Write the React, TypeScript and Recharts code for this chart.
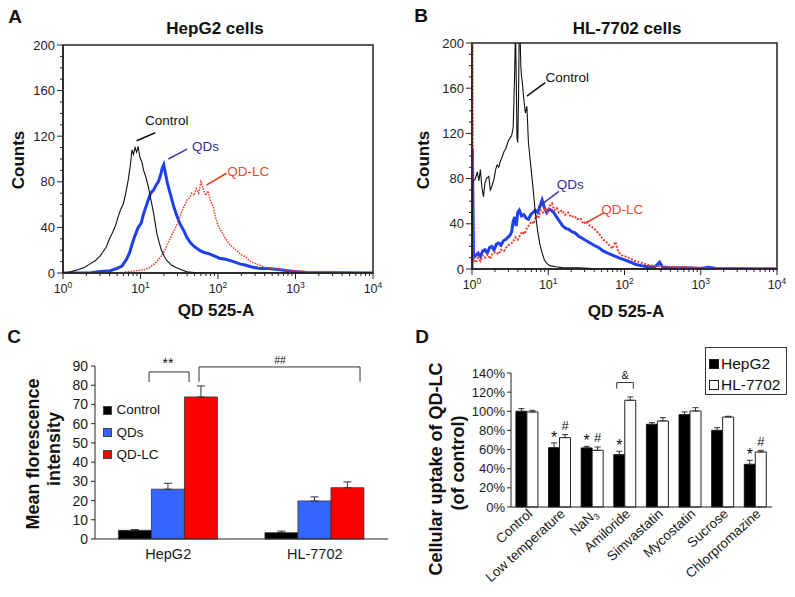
import React from "react";
import {
  LineChart,
  Line,
  XAxis,
  YAxis,
  ReferenceArea,
  ReferenceLine,
  ReferenceDot,
  BarChart,
  Bar,
  ErrorBar,
  LabelList,
} from "recharts";

type Pt = [number, number];

// ---------- Panel A: HepG2 cells (x = log10 of QD 525-A intensity, y = counts)
const hepg2Control: Pt[] = [
  [0, 0], [0.1, 1], [0.2, 3], [0.28, 5], [0.35, 8], [0.42, 11], [0.48, 15], [0.53, 20],
  [0.56, 23], [0.6, 30], [0.65, 37], [0.68, 42], [0.71, 49], [0.74, 55], [0.78, 61],
  [0.81, 70], [0.84, 81], [0.87, 95], [0.89, 108], [0.91, 104], [0.93, 110], [0.95, 106],
  [0.97, 111], [0.99, 102], [1.02, 97], [1.04, 90], [1.07, 84], [1.1, 76], [1.13, 66],
  [1.17, 52], [1.21, 35], [1.24, 27], [1.27, 20], [1.31, 14], [1.34, 11], [1.4, 7],
  [1.45, 5], [1.52, 3], [1.6, 1], [1.75, 0], [4, 0],
];
const hepg2QDs: Pt[] = [
  [0, 0], [0.35, 0], [0.45, 1], [0.61, 2], [0.7, 4], [0.76, 6], [0.82, 12], [0.86, 18],
  [0.89, 25], [0.93, 33], [0.97, 40], [1.01, 44], [1.04, 52], [1.07, 58], [1.1, 64],
  [1.13, 70], [1.17, 73], [1.2, 77], [1.23, 80], [1.26, 86], [1.28, 92], [1.3, 95],
  [1.32, 88], [1.35, 78], [1.39, 68], [1.43, 58], [1.47, 50], [1.51, 43], [1.56, 37],
  [1.6, 31], [1.65, 26], [1.7, 23], [1.76, 20], [1.82, 18], [1.88, 17], [1.95, 15],
  [2.02, 13], [2.1, 12], [2.2, 10], [2.28, 8], [2.35, 7], [2.45, 5], [2.55, 4], [2.65, 4],
  [2.78, 3], [2.9, 2], [3.0, 1], [3.15, 0.5], [4, 0],
];
const hepg2QDLC: Pt[] = [
  [0, 0], [0.7, 0], [0.82, 1], [0.95, 2], [1.05, 3], [1.12, 5], [1.18, 8], [1.22, 11],
  [1.27, 15], [1.32, 21], [1.36, 27], [1.4, 33], [1.44, 38], [1.48, 44], [1.52, 52],
  [1.56, 58], [1.6, 64], [1.63, 66], [1.66, 70], [1.69, 68], [1.72, 74], [1.75, 70],
  [1.78, 80], [1.81, 74], [1.84, 68], [1.87, 72], [1.9, 64], [1.94, 58], [1.97, 48],
  [2.01, 40], [2.05, 36], [2.1, 30], [2.15, 25], [2.2, 22], [2.25, 19], [2.3, 16],
  [2.36, 14], [2.42, 10], [2.5, 8], [2.6, 5], [2.7, 4], [2.85, 3], [3.0, 2], [3.15, 1],
  [3.3, 0.5], [4, 0],
];

// ---------- Panel B: HL-7702 cells
const hl7702Control: Pt[] = [
  [0, 0], [0.01, 78], [0.04, 79], [0.07, 86], [0.09, 78], [0.11, 88], [0.13, 72], [0.15, 64],
  [0.17, 76], [0.19, 80], [0.22, 82], [0.24, 70], [0.26, 73], [0.29, 80], [0.31, 88],
  [0.33, 92], [0.35, 90], [0.37, 95], [0.4, 100], [0.42, 104], [0.44, 106], [0.46, 110],
  [0.48, 114], [0.5, 116], [0.52, 118], [0.54, 125], [0.55, 150], [0.56, 175], [0.57, 215],
  [0.58, 170], [0.59, 116], [0.6, 112], [0.61, 150], [0.62, 215], [0.63, 210], [0.64, 180],
  [0.65, 170], [0.66, 165], [0.68, 150], [0.7, 138], [0.72, 144], [0.74, 112], [0.77, 92],
  [0.8, 72], [0.83, 50], [0.86, 34], [0.89, 22], [0.92, 14], [0.95, 8], [0.98, 5],
  [1.02, 3], [1.1, 2], [1.2, 1], [1.4, 1], [1.6, 0.5], [2.0, 0.5], [2.5, 0], [4, 0],
];
const hl7702QDs: Pt[] = [
  [0, 0], [0.005, 107], [0.02, 10], [0.05, 12], [0.08, 14], [0.11, 11], [0.14, 16],
  [0.17, 17], [0.2, 14], [0.23, 19], [0.26, 20], [0.29, 17], [0.32, 22], [0.35, 23],
  [0.38, 21], [0.41, 25], [0.44, 26], [0.47, 28], [0.5, 30], [0.52, 33], [0.54, 42],
  [0.56, 46], [0.58, 38], [0.6, 50], [0.62, 52], [0.65, 47], [0.68, 48], [0.71, 45],
  [0.74, 44], [0.77, 48], [0.8, 50], [0.83, 52], [0.86, 50], [0.89, 55], [0.92, 61],
  [0.95, 54], [0.98, 50], [1.01, 53], [1.04, 52], [1.07, 50], [1.1, 47], [1.13, 44],
  [1.16, 41], [1.19, 38], [1.23, 36], [1.27, 35], [1.31, 33], [1.35, 32], [1.4, 29],
  [1.45, 27], [1.5, 25], [1.55, 23], [1.6, 21], [1.66, 19], [1.72, 16], [1.78, 14],
  [1.85, 12], [1.92, 10], [2.0, 8], [2.08, 6], [2.15, 4], [2.22, 3], [2.3, 2], [2.4, 2],
  [2.46, 6], [2.5, 1.5], [2.6, 1], [2.8, 1], [3.0, 0.5], [3.1, 1.5], [3.2, 0.5], [4, 0],
];
const hl7702QDLC: Pt[] = [
  [0, 0], [0.005, 230], [0.015, 8], [0.05, 6], [0.08, 10], [0.11, 7], [0.14, 12], [0.17, 10],
  [0.2, 13], [0.24, 9], [0.27, 14], [0.31, 15], [0.35, 13], [0.38, 17], [0.42, 16],
  [0.46, 20], [0.5, 22], [0.54, 24], [0.57, 28], [0.6, 26], [0.63, 30], [0.66, 33],
  [0.69, 31], [0.72, 36], [0.75, 39], [0.78, 42], [0.81, 40], [0.84, 47], [0.87, 45],
  [0.9, 52], [0.93, 50], [0.96, 54], [0.99, 50], [1.02, 56], [1.05, 58], [1.08, 52],
  [1.11, 54], [1.14, 50], [1.18, 52], [1.22, 48], [1.26, 50], [1.3, 46], [1.34, 47],
  [1.38, 44], [1.42, 45], [1.46, 40], [1.5, 42], [1.55, 38], [1.6, 36], [1.64, 33],
  [1.68, 30], [1.72, 26], [1.76, 24], [1.8, 21], [1.84, 18], [1.88, 24], [1.92, 15],
  [1.97, 12], [2.02, 11], [2.08, 9], [2.14, 7], [2.2, 6], [2.28, 4], [2.36, 3], [2.45, 2.5],
  [2.6, 2], [2.8, 1.5], [3.0, 1], [3.3, 0.5], [4, 0.5],
];

const countTicks = [0, 10, 20, 30, 40, 50, 60, 70, 80, 90, 100, 110, 120, 130, 140, 150, 160, 170, 180, 190, 200];
const decades = [0, 1, 2, 3];
const decadeSteps = [1, 2, 3, 4, 5, 6, 7, 8, 9];

// ---------- Panel C: mean fluorescence intensity
const cGroups = ["HepG2", "HL-7702"];
const cControl = [4.5, 3.3];
const cControlErr = [0.4, 0.8];
const cQDs = [25.9, 19.8];
const cQDsErr = [3.1, 2.1];
const cQDLC = [73.9, 26.7];
const cQDLCErr = [5.7, 3.0];
const cTicks = [0, 10, 20, 30, 40, 50, 60, 70, 80, 90];

// ---------- Panel D: cellular uptake of QD-LC (% of control)
const dTreatments = ["Control", "Low temperature", "NaN₃", "Amiloride", "Simvastatin", "Mycostatin", "Sucrose", "Chlorpromazine"];
const dHepG2 = [100, 62, 61.7, 54.7, 86.4, 96.5, 80.1, 44.6];
const dHepG2Err = [2.8, 4.9, 1.7, 3.5, 1.8, 2.8, 2.8, 4.2];
const dHL = [99.3, 72.5, 59.2, 111.5, 89.9, 100.3, 94, 57.5];
const dHLErr = [1.7, 3.1, 3.5, 3.5, 3.5, 3.5, 0.8, 1.7];
const dHepG2Sig = ["", "*", "*", "*", "", "", "", "*"];
const dHLSig = ["", "#", "#", "", "", "", "", "#"];
const dTicks = [0, 20, 40, 60, 80, 100, 120, 140];

// ---------- styling / layout
const FONT = '"Liberation Sans", Arial, Helvetica, sans-serif';
const AXIS = "#222";
const logTicks = [...decades.flatMap((d) => decadeSteps.map((k) => d + Math.log10(k))), 4];
const toRows = (pts: Pt[]) => pts.map(([x, y]) => ({ x, y }));

type Note = { text: string; color: string; tx: number; ty: number; line: [Pt, Pt]; lineColor: string };
const notesA: Note[] = [
  { text: "Control", color: "#111", tx: 1.34, ty: 134, line: [[0.95, 116], [1.19, 123]], lineColor: "#111" },
  { text: "QDs", color: "#2c2c9c", tx: 1.84, ty: 111, line: [[1.36, 100], [1.6, 108.6]], lineColor: "#3a3aa8" },
  { text: "QD-LC", color: "#e8482e", tx: 2.39, ty: 89, line: [[1.85, 77], [2.11, 87.5]], lineColor: "#e43c1c" },
];
const notesB: Note[] = [
  { text: "Control", color: "#111", tx: 1.25, ty: 170, line: [[0.72, 153], [0.96, 165]], lineColor: "#111" },
  { text: "QDs", color: "#2c2c9c", tx: 1.29, ty: 74.6, line: [[0.87, 55], [1.14, 68.7]], lineColor: "#3a3aa8" },
  { text: "QD-LC", color: "#e8482e", tx: 1.97, ty: 52.5, line: [[1.49, 40.7], [1.73, 49.6]], lineColor: "#e43c1c" },
];

type Series = { data: Pt[]; color: string; width: number; dash?: string };
const seriesA: Series[] = [
  { data: hepg2QDs, color: "#1f3ff2", width: 3 },
  { data: hepg2QDLC, color: "#ee3b2b", width: 1.5, dash: "1.5 1.2" },
  { data: hepg2Control, color: "#111", width: 1.1 },
];
const seriesB: Series[] = [
  { data: hl7702QDs, color: "#1f3ff2", width: 3 },
  { data: hl7702QDLC, color: "#ee3b2b", width: 2, dash: "2 1.5" },
  { data: hl7702Control, color: "#111", width: 1.1 },
];

function HistXTick(props: any) {
  const { x, y, payload } = props;
  const v = payload.value as number;
  const major = Math.abs(v - Math.round(v)) < 1e-6;
  const ay = y - 8;
  return (
    <g>
      <line x1={x} x2={x} y1={ay} y2={ay + (major ? 6 : 3)} stroke={AXIS} strokeWidth={1} />
      {major && (
        <text x={x} y={ay + 19.5} textAnchor="middle" fontSize={12.5} fill="#222" fontFamily={FONT}>
          10
          <tspan dy={-5} fontSize={8.5}>
            {Math.round(v)}
          </tspan>
        </text>
      )}
    </g>
  );
}

function HistYTick(props: any) {
  const { x, y, payload } = props;
  const v = payload.value as number;
  const major = v % 40 === 0;
  const ax = x + 8;
  return (
    <g>
      <line x1={ax - (major ? 6 : 3)} x2={ax} y1={y} y2={y} stroke={AXIS} strokeWidth={1} />
      {major && (
        <text x={ax - 8} y={y + 4.5} textAnchor="end" fontSize={13} fill="#222" fontFamily={FONT}>
          {v}
        </text>
      )}
    </g>
  );
}

function HistPanel(props: { series: Series[]; notes: Note[]; margin: any; xAxisHeight: number }) {
  const { series, notes, margin, xAxisHeight } = props;
  return (
    <LineChart width={400} height={330} margin={margin}>
      <XAxis
        type="number"
        dataKey="x"
        domain={[0, 4]}
        ticks={logTicks}
        interval={0}
        allowDataOverflow
        tick={<HistXTick />}
        tickLine={false}
        tickSize={6}
        tickMargin={2}
        height={xAxisHeight}
        axisLine={{ stroke: AXIS, strokeWidth: 1.5 }}
      />
      <YAxis
        type="number"
        domain={[0, 200]}
        ticks={countTicks}
        interval={0}
        allowDataOverflow
        tick={<HistYTick />}
        tickLine={false}
        tickSize={6}
        tickMargin={2}
        width={40}
        axisLine={{ stroke: AXIS, strokeWidth: 1.5 }}
      />
      <ReferenceArea x1={0} x2={4} y1={0} y2={200} fill="none" fillOpacity={0} stroke={AXIS} strokeWidth={1.5} />
      {series.map((s, i) => (
        <Line
          key={"s" + i}
          data={toRows(s.data)}
          dataKey="y"
          type="linear"
          stroke={s.color}
          strokeWidth={s.width}
          strokeDasharray={s.dash}
          dot={false}
          activeDot={false}
          isAnimationActive={false}
        />
      ))}
      {notes.map((n, i) => (
        <ReferenceLine
          key={"l" + i}
          segment={[
            { x: n.line[0][0], y: n.line[0][1] },
            { x: n.line[1][0], y: n.line[1][1] },
          ]}
          stroke={n.lineColor}
          strokeWidth={1.5}
          ifOverflow="visible"
        />
      ))}
      {notes.map((n, i) => (
        <ReferenceDot
          key={"t" + i}
          x={n.tx}
          y={n.ty}
          r={0}
          fill="none"
          stroke="none"
          ifOverflow="visible"
          label={{ value: n.text, position: "center", fill: n.color, fontSize: 13.5, fontFamily: FONT }}
        />
      ))}
    </LineChart>
  );
}

// bracket positions on a hidden numeric axis whose unit is one category band
type Bracket = { x1: number; x2: number; top: number; bottom: number; label: string; lx: number; ly: number; size: number };
const cBrackets: Bracket[] = [
  { x1: 0.369, x2: 0.642, top: 86.9, bottom: 81.7, label: "**", lx: 0.498, ly: 91.6, size: 14 },
  { x1: 0.71, x2: 1.809, top: 89.5, bottom: 81.8, label: "##", lx: 1.263, ly: 93, size: 10.5 },
];
const dBrackets: Bracket[] = [{ x1: 3.24, x2: 3.75, top: 130, bottom: 123.7, label: "&", lx: 3.5, ly: 137.9, size: 11 }];

function bracketSegments(b: Bracket) {
  return [
    [{ x: b.x1, y: b.bottom }, { x: b.x1, y: b.top }],
    [{ x: b.x1, y: b.top }, { x: b.x2, y: b.top }],
    [{ x: b.x2, y: b.top }, { x: b.x2, y: b.bottom }],
  ];
}

function renderBrackets(list: Bracket[]) {
  const out: any[] = [];
  list.forEach((b, bi) => {
    bracketSegments(b).forEach((seg, si) => {
      out.push(
        <ReferenceLine key={`b${bi}-${si}`} xAxisId="n" segment={seg as any} stroke="#333" strokeWidth={1} ifOverflow="visible" />
      );
    });
    out.push(
      <ReferenceDot
        key={`bl${bi}`}
        xAxisId="n"
        x={b.lx}
        y={b.ly}
        r={0}
        fill="none"
        stroke="none"
        ifOverflow="visible"
        label={{ value: b.label, position: "center", fill: "#111", fontSize: b.size, fontFamily: FONT }}
      />
    );
  });
  return out;
}

const cRows = cGroups.map((g, i) => ({
  pos: i + 0.5,
  group: g,
  control: cControl[i],
  controlErr: [0, cControlErr[i]],
  qds: cQDs[i],
  qdsErr: [0, cQDsErr[i]],
  qdlc: cQDLC[i],
  qdlcErr: [0, cQDLCErr[i]],
}));

const dRows = dTreatments.map((t, i) => ({
  i,
  pos: i + 0.5,
  treatment: t,
  hepg2: dHepG2[i],
  hepg2Err: [0, dHepG2Err[i]],
  hl: dHL[i],
  hlErr: [0, dHLErr[i]],
}));

function TreatTick(props: any) {
  const { x, y, payload } = props;
  const v: string = String(payload.value);
  const sub = v.endsWith("₃");
  return (
    <g transform={`translate(${x + 6},${y + 6})`}>
      <text transform="rotate(-42)" textAnchor="end" fontSize={13.5} fill="#1a1a1a" fontFamily={FONT}>
        {sub ? (
          <>
            {v.slice(0, -1)}
            <tspan fontSize={9} dy={3}>
              3
            </tspan>
          </>
        ) : (
          v
        )}
      </text>
    </g>
  );
}

function makeSig(marks: string[], means: number[], errs: number[], size: number, raise: number) {
  return (p: any) => {
    const vb = p && p.viewBox && typeof p.viewBox.x === "number" ? p.viewBox : p;
    let idx: number | undefined = typeof p.index === "number" ? p.index : p.payload && typeof p.payload.i === "number" ? p.payload.i : undefined;
    if (idx === undefined) idx = means.indexOf(Number(p.value));
    if (idx === undefined || idx < 0) return null;
    const m = marks[idx];
    if (!m) return null;
    const x = Number(vb.x);
    const y = Number(vb.y);
    const w = Number(vb.width);
    const h = Math.abs(Number(vb.height));
    const ppu = h / means[idx];
    const top = y - errs[idx] * ppu;
    return (
      <text key={"sig" + idx} x={x + w / 2} y={top - raise} textAnchor="middle" fontSize={size} fill="#111" fontFamily={FONT}>
        {m}
      </text>
    );
  };
}

function Txt(props: { x: number; y: number; size?: number; bold?: boolean; rotate?: boolean; color?: string; children: any }) {
  const { x, y, size = 17, bold = true, rotate = false, color = "#111", children } = props;
  return (
    <div
      style={{
        position: "absolute",
        left: x,
        top: y,
        transform: `translate(-50%,-50%)${rotate ? " rotate(-90deg)" : ""}`,
        fontSize: size,
        fontWeight: bold ? 700 : 400,
        whiteSpace: "nowrap",
        lineHeight: 1,
        color,
      }}
    >
      {children}
    </div>
  );
}

const cLegend = [
  { name: "Control", color: "#000" },
  { name: "QDs", color: "#3366ff" },
  { name: "QD-LC", color: "#ff0000" },
];
const dLegend = [
  { name: "HepG2", color: "#000" },
  { name: "HL-7702", color: "#fff" },
];

export default function App() {
  return (
    <div
      style={{
        position: "absolute",
        left: 0,
        top: 0,
        width: 795,
        height: 597,
        background: "#fff",
        fontFamily: FONT,
        color: "#111",
        overflow: "hidden",
      }}
    >
      {/* Panel A */}
      <div style={{ position: "absolute", left: 0, top: 0 }}>
        <HistPanel series={seriesA} notes={notesA} margin={{ top: 45, right: 27, bottom: 0, left: 23 }} xAxisHeight={57} />
      </div>
      {/* Panel B */}
      <div style={{ position: "absolute", left: 395, top: 0 }}>
        <HistPanel series={seriesB} notes={notesB} margin={{ top: 43, right: 18, bottom: 0, left: 37 }} xAxisHeight={61} />
      </div>

      {/* Panel C */}
      <div style={{ position: "absolute", left: 0, top: 330 }}>
        <BarChart width={400} height={267} data={cRows} margin={{ top: 36, right: 12, bottom: 0, left: 55 }} barCategoryGap="16%" barGap={0}>
          <XAxis
            dataKey="group"
            tickLine={false}
            tickSize={0}
            tickMargin={10}
            height={58}
            tick={{ fontSize: 14.5, fill: "#1a1a1a", fontFamily: FONT }}
            axisLine={{ stroke: AXIS }}
          />
          <XAxis xAxisId="n" dataKey="pos" type="number" domain={[0, cGroups.length]} hide allowDataOverflow />
          <YAxis
            domain={[0, 90]}
            ticks={cTicks}
            interval={0}
            width={40}
            tickSize={4}
            tickMargin={3}
            tick={{ fontSize: 14, fill: "#1a1a1a", fontFamily: FONT }}
            axisLine={{ stroke: AXIS }}
            tickLine={{ stroke: AXIS }}
          />
          <Bar dataKey="control" fill="#000" stroke="#333" strokeWidth={0.8} isAnimationActive={false}>
            <ErrorBar dataKey="controlErr" width={4} stroke="#333" strokeWidth={1} />
          </Bar>
          <Bar dataKey="qds" fill="#3366ff" stroke="#333" strokeWidth={0.8} isAnimationActive={false}>
            <ErrorBar dataKey="qdsErr" width={4} stroke="#333" strokeWidth={1} />
          </Bar>
          <Bar dataKey="qdlc" fill="#ff0000" stroke="#333" strokeWidth={0.8} isAnimationActive={false}>
            <ErrorBar dataKey="qdlcErr" width={4} stroke="#333" strokeWidth={1} />
          </Bar>
          {renderBrackets(cBrackets)}
        </BarChart>
      </div>

      {/* Panel D */}
      <div style={{ position: "absolute", left: 395, top: 330 }}>
        <BarChart width={400} height={267} data={dRows} margin={{ top: 43, right: 23, bottom: 0, left: 76 }} barCategoryGap="15%" barGap={0}>
          <XAxis
            dataKey="treatment"
            interval={0}
            tickLine={false}
            tickSize={0}
            tickMargin={2}
            height={90}
            tick={<TreatTick />}
            axisLine={{ stroke: AXIS }}
          />
          <XAxis xAxisId="n" dataKey="pos" type="number" domain={[0, dTreatments.length]} hide allowDataOverflow />
          <YAxis
            domain={[0, 140]}
            ticks={dTicks}
            interval={0}
            tickFormatter={(v: number) => `${v}%`}
            width={40}
            tickSize={4}
            tickMargin={2}
            tick={{ fontSize: 13, fill: "#1a1a1a", fontFamily: FONT }}
            axisLine={{ stroke: AXIS }}
            tickLine={{ stroke: AXIS }}
          />
          <Bar dataKey="hepg2" fill="#000" stroke="#000" strokeWidth={0.8} isAnimationActive={false}>
            <ErrorBar dataKey="hepg2Err" width={3} stroke="#333" strokeWidth={1} />
            <LabelList dataKey="hepg2" content={makeSig(dHepG2Sig, dHepG2, dHepG2Err, 16, 0)} />
          </Bar>
          <Bar dataKey="hl" fill="#fff" stroke="#222" strokeWidth={1} isAnimationActive={false}>
            <ErrorBar dataKey="hlErr" width={3} stroke="#333" strokeWidth={1} />
            <LabelList dataKey="hl" content={makeSig(dHLSig, dHL, dHLErr, 13, 4.5)} />
          </Bar>
          {renderBrackets(dBrackets)}
        </BarChart>
      </div>

      {/* Text: panel letters, titles, axis titles */}
      <Txt x={15} y={16} size={19}>A</Txt>
      <Txt x={215} y={28}>HepG2 cells</Txt>
      <Txt x={18} y={160} rotate>Counts</Txt>
      <Txt x={216} y={310}>QD 525-A</Txt>

      <Txt x={421} y={15} size={19}>B</Txt>
      <Txt x={627} y={28}>HL-7702 cells</Txt>
      <Txt x={423} y={160} rotate>Counts</Txt>
      <Txt x={626} y={311}>QD 525-A</Txt>

      <Txt x={14} y={336} size={19}>C</Txt>
      <Txt x={33} y={454} size={18} rotate>Mean florescence</Txt>
      <Txt x={54} y={449} size={18} rotate>intensity</Txt>

      <Txt x={422} y={336} size={19}>D</Txt>
      <Txt x={436} y={469} size={18} rotate>Cellular uptake of QD-LC</Txt>
      <Txt x={458} y={463} size={18} rotate>(of control)</Txt>

      {/* Legend C */}
      <div style={{ position: "absolute", left: 103, top: 403 }}>
        {cLegend.map((l) => (
          <div key={l.name} style={{ display: "flex", alignItems: "center", height: 14, marginBottom: 8.3 }}>
            <div style={{ width: 7, height: 7, background: l.color, border: "0.8px solid #444", marginRight: 4.5 }} />
            <span style={{ fontSize: 13.5, lineHeight: 1 }}>{l.name}</span>
          </div>
        ))}
      </div>

      {/* Legend D */}
      <div
        style={{
          position: "absolute",
          left: 705,
          top: 347,
          width: 82,
          height: 48,
          border: "1px solid #333",
          boxSizing: "border-box",
          paddingTop: 8,
          paddingLeft: 3,
        }}
      >
        {dLegend.map((l) => (
          <div key={l.name} style={{ display: "flex", alignItems: "center", height: 16, marginBottom: 5 }}>
            <div style={{ width: 8, height: 8, background: l.color, border: "1px solid #222", marginRight: 2 }} />
            <span style={{ fontSize: 15.5, lineHeight: 1 }}>{l.name}</span>
          </div>
        ))}
      </div>
    </div>
  );
}
